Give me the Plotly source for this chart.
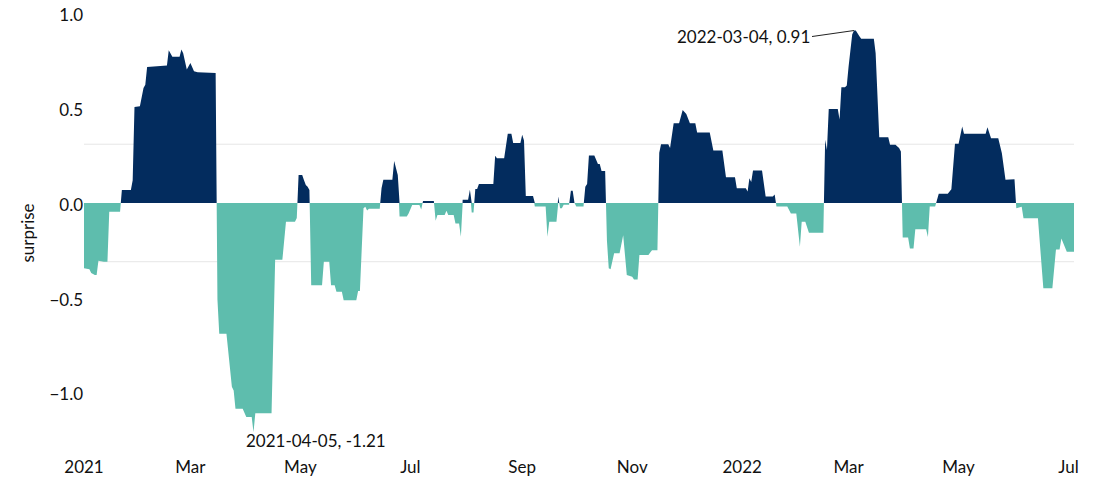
import pandas as pd
import numpy as np
import plotly.graph_objects as go

dates = [
    "2021-01-01", "2021-01-04", "2021-01-05", "2021-01-07", "2021-01-08", "2021-01-09", "2021-01-12",
    "2021-01-14", "2021-01-15", "2021-01-21",
    "2021-01-22", "2021-01-27", "2021-01-28", "2021-01-29", "2021-02-01", "2021-02-03", "2021-02-04",
    "2021-02-05", "2021-02-16", "2021-02-17", "2021-02-19", "2021-02-23", "2021-02-24", "2021-02-25",
    "2021-02-27", "2021-03-01", "2021-03-03", "2021-03-05", "2021-03-15",
    "2021-03-16", "2021-03-17", "2021-03-21", "2021-03-24", "2021-03-25", "2021-03-26", "2021-03-30",
    "2021-04-01", "2021-04-04", "2021-04-05", "2021-04-06", "2021-04-15", "2021-04-17", "2021-04-21",
    "2021-04-23", "2021-04-28", "2021-04-29",
    "2021-04-30", "2021-05-02", "2021-05-03", "2021-05-04", "2021-05-05", "2021-05-06",
    "2021-05-07", "2021-05-13", "2021-05-14", "2021-05-17", "2021-05-18", "2021-05-20", "2021-05-21",
    "2021-05-24", "2021-05-25", "2021-06-01", "2021-06-02", "2021-06-03", "2021-06-05", "2021-06-06",
    "2021-06-07", "2021-06-08", "2021-06-14",
    "2021-06-15", "2021-06-16", "2021-06-21", "2021-06-22", "2021-06-24",
    "2021-06-25", "2021-06-29", "2021-06-30", "2021-07-02", "2021-07-06", "2021-07-07", "2021-07-08",
    "2021-07-14", "2021-07-15", "2021-07-16", "2021-07-20", "2021-07-21", "2021-07-22", "2021-07-25",
    "2021-07-26", "2021-07-28", "2021-07-29",
    "2021-07-30", "2021-08-02", "2021-08-03", "2021-08-04", "2021-08-05", "2021-08-06", "2021-08-07",
    "2021-08-08", "2021-08-16", "2021-08-17", "2021-08-18", "2021-08-22", "2021-08-24", "2021-08-26",
    "2021-08-27", "2021-08-31", "2021-09-01", "2021-09-02", "2021-09-03", "2021-09-07",
    "2021-09-08", "2021-09-14", "2021-09-15", "2021-09-16", "2021-09-20", "2021-09-21", "2021-09-22",
    "2021-09-23", "2021-09-24", "2021-09-27", "2021-09-28", "2021-09-29", "2021-09-30", "2021-10-01",
    "2021-10-05",
    "2021-10-06", "2021-10-07", "2021-10-08", "2021-10-11", "2021-10-13", "2021-10-14", "2021-10-15",
    "2021-10-17",
    "2021-10-18", "2021-10-19", "2021-10-20", "2021-10-22", "2021-10-25", "2021-10-27", "2021-10-29",
    "2021-11-01", "2021-11-02", "2021-11-04", "2021-11-05", "2021-11-10", "2021-11-11", "2021-11-12",
    "2021-11-15",
    "2021-11-16", "2021-11-17", "2021-11-21", "2021-11-22", "2021-11-24", "2021-11-27", "2021-11-29",
    "2021-12-01", "2021-12-03", "2021-12-06", "2021-12-07", "2021-12-14", "2021-12-16", "2021-12-21",
    "2021-12-23", "2021-12-28", "2021-12-29", "2022-01-03", "2022-01-04", "2022-01-05", "2022-01-06",
    "2022-01-07", "2022-01-12", "2022-01-14", "2022-01-18", "2022-01-19",
    "2022-01-20", "2022-01-26", "2022-01-28", "2022-01-31", "2022-02-02", "2022-02-03", "2022-02-05",
    "2022-02-07", "2022-02-15",
    "2022-02-16", "2022-02-17", "2022-02-18", "2022-02-23", "2022-02-24", "2022-02-25", "2022-02-27",
    "2022-02-28", "2022-03-01", "2022-03-03", "2022-03-04", "2022-03-05", "2022-03-07", "2022-03-08",
    "2022-03-15", "2022-03-16", "2022-03-18", "2022-03-23", "2022-03-24", "2022-03-27", "2022-03-29",
    "2022-03-30",
    "2022-03-31", "2022-04-03", "2022-04-04", "2022-04-06", "2022-04-07", "2022-04-13", "2022-04-14",
    "2022-04-15", "2022-04-18",
    "2022-04-20", "2022-04-25", "2022-04-27", "2022-04-29", "2022-05-01", "2022-05-03", "2022-05-04",
    "2022-05-16", "2022-05-17", "2022-05-19", "2022-05-23", "2022-05-25", "2022-05-27", "2022-05-31",
    "2022-06-01",
    "2022-06-02", "2022-06-05", "2022-06-06", "2022-06-14", "2022-06-17", "2022-06-22", "2022-06-24",
    "2022-06-26", "2022-06-27", "2022-06-30", "2022-07-04",
]

surprise = [
    -0.345, -0.35, -0.37, -0.38, -0.38, -0.305, -0.31,
    -0.31, -0.046, -0.046,
    0.069, 0.069, 0.12, 0.506, 0.51, 0.607, 0.624,
    0.718, 0.725, 0.806, 0.771, 0.771, 0.81, 0.79,
    0.704, 0.739, 0.695, 0.69, 0.686,
    -0.51, -0.69, -0.69, -0.97, -0.99, -1.086, -1.086,
    -1.13, -1.13, -1.21, -1.11, -1.11, -0.30, -0.30,
    -0.099, -0.099, -0.08,
    0.148, 0.148, 0.12, 0.095, 0.085, 0.069,
    -0.434, -0.434, -0.31, -0.31, -0.434, -0.434, -0.469,
    -0.469, -0.513, -0.513, -0.464, -0.464, -0.028, -0.02,
    -0.04, -0.03, -0.03,
    0.078, 0.122, 0.122, 0.222, 0.148,
    -0.072, -0.072, -0.056, -0.011, -0.011, -0.034, 0.011,
    0.011, -0.094, -0.063, -0.063, -0.041, -0.063, -0.063,
    -0.108, -0.108, -0.178,
    0.017, 0.017, 0.07, -0.05, -0.05, 0.074, 0.074,
    0.10, 0.10, 0.249, 0.236, 0.236, 0.365, 0.365,
    0.316, 0.316, 0.36, 0.33, 0.037, 0.037,
    -0.018, -0.018, -0.178, -0.099, -0.099, 0.034, -0.028,
    -0.028, -0.01, -0.01, 0.065, 0.065, 0.0, -0.018,
    -0.018,
    0.086, 0.10, 0.25, 0.25, 0.206, 0.206, 0.169,
    0.169,
    -0.2, -0.345, -0.35, -0.265, -0.265, -0.17, -0.38,
    -0.39, -0.404, -0.404, -0.275, -0.275, -0.262, -0.249,
    -0.249,
    0.265, 0.31, 0.31, 0.29, 0.42, 0.42, 0.49,
    0.47, 0.42, 0.42, 0.372, 0.372, 0.277, 0.277,
    0.136, 0.136, 0.078, 0.078, 0.06, 0.131, 0.11,
    0.171, 0.171, 0.034, 0.034, 0.045,
    -0.018, -0.018, -0.055, -0.055, -0.231, -0.099, -0.099,
    -0.157, -0.157,
    0.333, 0.28, 0.496, 0.496, 0.44, 0.61, 0.61,
    0.62, 0.72, 0.889, 0.91, 0.91, 0.88, 0.866,
    0.866, 0.79, 0.347, 0.347, 0.307, 0.307, 0.29,
    0.272,
    -0.182, -0.182, -0.24, -0.24, -0.139, -0.139, -0.18,
    -0.019, -0.019,
    0.048, 0.048, 0.072, 0.312, 0.312, 0.404, 0.365,
    0.365, 0.40, 0.342, 0.342, 0.263, 0.122, 0.122,
    0.125,
    -0.028, -0.02, -0.081, -0.081, -0.45, -0.45, -0.245,
    -0.245, -0.187, -0.258, -0.258,
]

tick_dates = ["2021-01-01", "2021-03-01", "2021-05-01", "2021-07-01", "2021-09-01", "2021-11-01",
              "2022-01-01", "2022-03-01", "2022-05-01", "2022-07-01"]
tick_labels = ["2021", "Mar", "May", "Jul", "Sep", "Nov", "2022", "Mar", "May", "Jul"]

band_level = 0.31  # faint reference lines at +/- this level

max_date, max_value = "2022-03-04", 0.91
min_date, min_value = "2021-04-05", -1.21

NAVY = "#032c5e"
TEAL = "#5ebdad"
FONT = "Lato"

# insert zero crossings so positive / negative fills meet cleanly at zero
t = pd.to_datetime(pd.Series(dates)).astype("int64").to_numpy().astype(float)
v = np.array(surprise, dtype=float)
tt, vv = [t[0]], [v[0]]
for i in range(1, len(v)):
    if v[i - 1] * v[i] < 0:
        f = v[i - 1] / (v[i - 1] - v[i])
        tt.append(t[i - 1] + f * (t[i] - t[i - 1]))
        vv.append(0.0)
    tt.append(t[i])
    vv.append(v[i])
xs = pd.to_datetime(np.array(tt).astype("int64"))
vv = np.array(vv)
pos = np.where(vv > 0, vv, 0.0)
neg = np.where(vv < 0, vv, 0.0)

fig = go.Figure()
fig.add_trace(go.Scatter(x=xs, y=neg, mode="lines", fill="tozeroy", fillcolor=TEAL,
                         line=dict(width=0, color=TEAL), hoverinfo="skip", showlegend=False))
fig.add_trace(go.Scatter(x=xs, y=pos, mode="lines", fill="tozeroy", fillcolor=NAVY,
                         line=dict(width=0, color=NAVY), hoverinfo="skip", showlegend=False))

for lvl in (band_level, -band_level):
    fig.add_shape(type="line", xref="paper", x0=0, x1=1, yref="y", y0=lvl, y1=lvl,
                  line=dict(color="rgba(200,200,200,0.45)", width=1), layer="below")

fig.add_annotation(x=max_date, y=max_value, text=f"{max_date}, {max_value}",
                   showarrow=True, arrowhead=0, arrowwidth=1, arrowcolor="#222",
                   ax=-42, ay=6, xanchor="right", font=dict(family=FONT, size=17, color="#111"))
fig.add_annotation(x=min_date, y=min_value, text=f"{min_date}, {min_value}",
                   showarrow=True, arrowhead=0, arrowwidth=1, arrowcolor="#222",
                   ax=62, ay=8, font=dict(family=FONT, size=17, color="#111"))

fig.update_layout(
    width=1107, height=479,
    margin=dict(l=76, r=41, t=3, b=32),
    paper_bgcolor="white", plot_bgcolor="white",
    font=dict(family=FONT, size=17, color="#111"),
    xaxis=dict(tickvals=tick_dates, ticktext=tick_labels, showgrid=False, zeroline=False,
               showline=False, ticks="", automargin=False, ticklabeloverflow="allow"),
    yaxis=dict(title=dict(text="surprise", font=dict(size=17), standoff=10), range=[-1.33, 1.013],
               tickvals=[-1.0, -0.5, 0.0, 0.5, 1.0], tickformat=".1f", automargin=False,
               ticklabeloverflow="allow", ticklabelshift=2,
               showgrid=False, zeroline=False, showline=False, ticks=""),
)

fig.write_html("out.html")
